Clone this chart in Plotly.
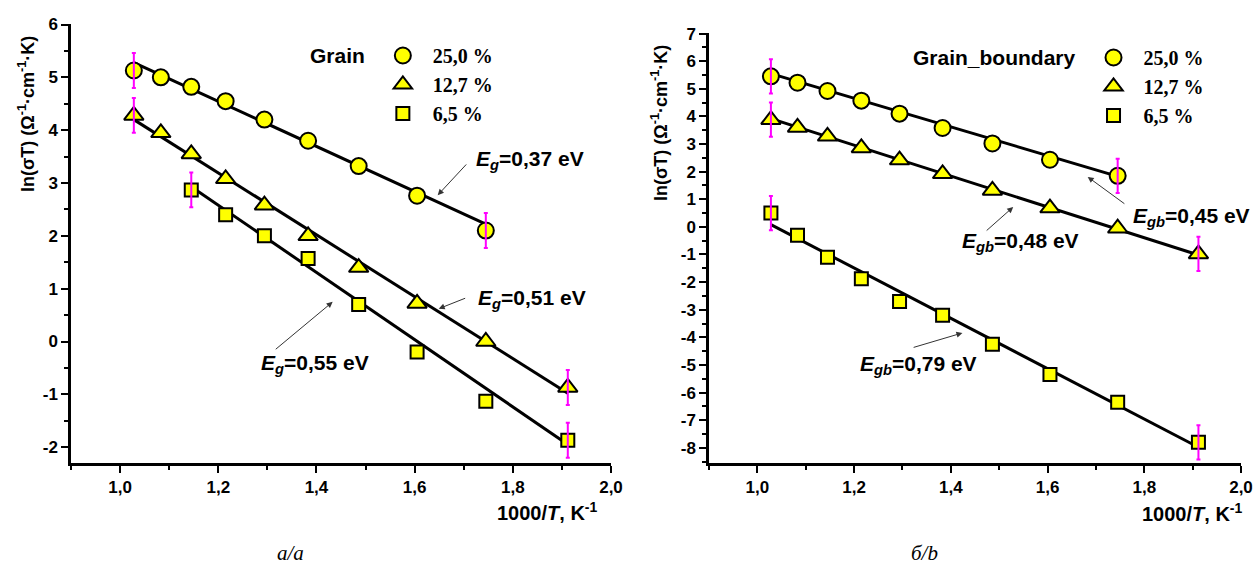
import plotly.graph_objects as go

# ---------------- data ----------------
x_vals = [1.028, 1.083, 1.145, 1.215, 1.294, 1.383, 1.486, 1.605, 1.745, 1.912]

# panel a (Grain)
a_x25 = x_vals[:9]
a_y25 = [5.13, 5.00, 4.82, 4.55, 4.20, 3.80, 3.32, 2.76, 2.10]
a_x127 = x_vals
a_y127 = [4.28, 3.95, 3.55, 3.08, 2.58, 2.00, 1.40, 0.72, 0.00, -0.87]
a_x65 = x_vals[2:]
a_y65 = [2.87, 2.40, 2.00, 1.57, 0.70, -0.20, -1.13, -1.87]

a_fit25_x, a_fit25_y = [1.028, 1.745], [5.28, 2.22]
a_fit127_x, a_fit127_y = [1.028, 1.912], [4.20, -0.98]
a_fit65_x, a_fit65_y = [1.145, 1.912], [2.93, -1.95]

# panel b (Grain boundary)
b_x25 = x_vals[:9]
b_y25 = [5.45, 5.22, 4.92, 4.57, 4.10, 3.58, 3.02, 2.43, 1.85]
b_x127 = x_vals
b_y127 = [3.88, 3.60, 3.28, 2.86, 2.42, 1.92, 1.32, 0.68, -0.05, -0.98]
b_x65 = x_vals
b_y65 = [0.50, -0.30, -1.10, -1.88, -2.70, -3.20, -4.25, -5.35, -6.35, -7.80]

b_fit25_x, b_fit25_y = [1.028, 1.745], [5.55, 1.83]
b_fit127_x, b_fit127_y = [1.028, 1.912], [3.92, -1.02]
b_fit65_x, b_fit65_y = [1.028, 1.912], [0.08, -7.98]

err_a = 0.33
err_b = 0.62

series_labels = ["25,0 %", "12,7 %", "6,5 %"]
x_ticks = [1.0, 1.2, 1.4, 1.6, 1.8, 2.0]
x_ticktext = ["1,0", "1,2", "1,4", "1,6", "1,8", "2,0"]
ya_ticks = [-2, -1, 0, 1, 2, 3, 4, 5, 6]
ya_ticktext = ["-2", "-1", "0", "1", "2", "3", "4", "5", "6"]
yb_ticks = [-8, -7, -6, -5, -4, -3, -2, -1, 0, 1, 2, 3, 4, 5, 6, 7]
yb_ticktext = ["-8", "-7", "-6", "-5", "-4", "-3", "-2", "-1", "0",
               "1", "2", "3", "4", "5", "6", "7"]

# ---------------- styling ----------------
SANS = "Liberation Sans"
SERIF = "Liberation Serif"
YELLOW = "#ffff00"
MAGENTA = "#ff00ff"
symbols = ["circle", "triangle-up", "square"]
sizes = [16, 17, 13]

fig = go.Figure()


def bold(labels):
    return ["<b>" + t + "</b>" for t in labels]


def add_panel(xa, ya, legend, pts, fits, err):
    for fx, fy in fits:
        fig.add_trace(go.Scatter(x=fx, y=fy, mode="lines",
                                 line=dict(color="black", width=3),
                                 showlegend=False, hoverinfo="skip",
                                 xaxis=xa, yaxis=ya))
    for (px, py), lab, sym, sz in zip(pts, series_labels, symbols, sizes):
        fig.add_trace(go.Scatter(x=px, y=py, mode="markers", name=lab,
                                 marker=dict(symbol=sym, size=sz, color=YELLOW,
                                             line=dict(color="black", width=2)),
                                 legend=legend, xaxis=xa, yaxis=ya))
    ex, ey = [], []
    for px, py in pts:
        ex += [px[0], px[-1]]
        ey += [py[0], py[-1]]
    fig.add_trace(go.Scatter(x=ex, y=ey, mode="markers",
                             marker=dict(size=1, color="rgba(0,0,0,0)"),
                             error_y=dict(type="constant", value=err, color=MAGENTA,
                                          thickness=2, width=2),
                             showlegend=False, hoverinfo="skip",
                             xaxis=xa, yaxis=ya))


add_panel("x", "y", "legend",
          [(a_x25, a_y25), (a_x127, a_y127), (a_x65, a_y65)],
          [(a_fit25_x, a_fit25_y), (a_fit127_x, a_fit127_y), (a_fit65_x, a_fit65_y)],
          err_a)
add_panel("x2", "y2", "legend2",
          [(b_x25, b_y25), (b_x127, b_y127), (b_x65, b_y65)],
          [(b_fit25_x, b_fit25_y), (b_fit127_x, b_fit127_y), (b_fit65_x, b_fit65_y)],
          err_b)

W, H = 1257, 574
TICKFONT = dict(family=SANS, size=17, color="black", weight="bold")


def xaxis_style(dom, anchor):
    return dict(domain=dom, range=[0.9, 2.0], anchor=anchor, automargin=False,
                tickvals=x_ticks, ticktext=bold(x_ticktext),
                showline=True, linecolor="black", linewidth=2.5,
                ticks="outside", ticklen=7, tickwidth=2, tickcolor="black",
                tickfont=TICKFONT,
                minor=dict(dtick=0.1, tick0=0.9, ticks="outside", ticklen=4,
                           tickwidth=2, tickcolor="black"),
                showgrid=False, zeroline=False, fixedrange=True)


def yaxis_style(dom, rng, anchor, tv, tt):
    return dict(domain=dom, range=rng, anchor=anchor, automargin=False,
                tickvals=tv, ticktext=bold(tt),
                showline=True, linecolor="black", linewidth=2.5,
                ticks="outside", ticklen=7, tickwidth=2, tickcolor="black",
                tickfont=TICKFONT,
                minor=dict(dtick=0.5, tick0=0, ticks="outside", ticklen=4,
                           tickwidth=2, tickcolor="black"),
                showgrid=False, zeroline=False, fixedrange=True)


ydom = [1 - 463 / H, 1 - 24 / H]
ydom2 = [1 - 463 / H, 1 - 33 / H]

ann = []
ylab = "<b>ln(σT) (Ω<sup>-1</sup>·cm<sup>-1</sup>·K)</b>"
YFONT = dict(family=SANS, size=18, color="black", weight="bold")
ann.append(dict(text=ylab, xref="paper", yref="paper", x=26 / W, y=1 - 114 / H,
                xanchor="center", yanchor="middle",
                textangle=-90, showarrow=False, font=YFONT))
ann.append(dict(text=ylab, xref="paper", yref="paper", x=659 / W, y=1 - 123 / H,
                xanchor="center", yanchor="middle",
                textangle=-90, showarrow=False, font=YFONT))
xlab = "<b>1000/<i>T</i>, K<sup>-1</sup></b>"
XFONT = dict(family=SANS, size=20, color="black", weight="bold")
ann.append(dict(text=xlab, xref="paper", yref="paper", x=600 / W, y=1 - 511 / H,
                xanchor="right", yanchor="middle", showarrow=False, font=XFONT))
ann.append(dict(text=xlab, xref="paper", yref="paper", x=1245 / W, y=1 - 512 / H,
                xanchor="right", yanchor="middle", showarrow=False, font=XFONT))
ann.append(dict(text="<i>а/a</i>", xref="paper", yref="paper", x=290 / W, y=1 - 553 / H,
                xanchor="center", yanchor="middle",
                showarrow=False, font=dict(family=SERIF, size=21, color="black")))
ann.append(dict(text="<i>б/b</i>", xref="paper", yref="paper", x=924 / W, y=1 - 553 / H,
                xanchor="center", yanchor="middle",
                showarrow=False, font=dict(family=SERIF, size=21, color="black")))

efont = dict(family=SANS, size=21, color="black", weight="bold")
labels = [
    ("x", "y", "<b><i>E</i><sub><i>g</i></sub>=0,37 eV</b>", 1.720, 3.43, 1.647, 2.77, 1.708, 3.38),
    ("x", "y", "<b><i>E</i><sub><i>g</i></sub>=0,51 eV</b>", 1.724, 0.80, 1.649, 0.62, 1.706, 0.83),
    ("x", "y", "<b><i>E</i><sub><i>g</i></sub>=0,55 eV</b>", 1.282, -0.42, 1.433, 0.75, 1.314, -0.17),
    ("x2", "y2", "<b><i>E</i><sub><i>gb</i></sub>=0,45 eV</b>", 1.772, 0.36, 1.683, 1.81, 1.762, 0.80),
    ("x2", "y2", "<b><i>E</i><sub><i>gb</i></sub>=0,48 eV</b>", 1.420, -0.54, 1.529, 0.72, 1.471, -0.18),
    ("x2", "y2", "<b><i>E</i><sub><i>gb</i></sub>=0,79 eV</b>", 1.208, -5.00, 1.424, -3.84, 1.320, -4.38),
]
for xr, yr, t, tx, ty, hx, hy, qx, qy in labels:
    ann.append(dict(text=t, xref=xr, yref=yr, x=tx, y=ty, xanchor="left",
                    yanchor="middle", showarrow=False, font=efont))
    ann.append(dict(text="", xref=xr, yref=yr, x=hx, y=hy, axref=xr, ayref=yr,
                    ax=qx, ay=qy, showarrow=True, arrowhead=2, arrowsize=1.2,
                    arrowwidth=1, arrowcolor="#333333"))

legend_common = dict(xanchor="left", yanchor="top", bgcolor="rgba(0,0,0,0)",
                     font=dict(family=SERIF, size=20, color="black", weight="bold"),
                     itemwidth=50, tracegroupgap=0, itemclick=False)
LTFONT = dict(family=SANS, size=21, color="black", weight="bold")

fig.update_layout(
    width=W, height=H, autosize=False,
    margin=dict(l=0, r=0, t=0, b=0, pad=0),
    paper_bgcolor="white", plot_bgcolor="white",
    showlegend=True,
    xaxis=xaxis_style([71 / W, 611 / W], "y"),
    yaxis=yaxis_style(ydom, [-2.30, 6.01], "x", ya_ticks, ya_ticktext),
    xaxis2=xaxis_style([709 / W, 1241 / W], "y2"),
    yaxis2=yaxis_style(ydom2, [-8.55, 7.02], "x2", yb_ticks, yb_ticktext),
    legend=dict(x=308 / W, y=1 - 36 / H,
                title=dict(text="<b>Grain</b>", side="left", font=LTFONT),
                **legend_common),
    legend2=dict(x=911 / W, y=1 - 38 / H,
                 title=dict(text="<b>Grain_boundary</b>", side="left", font=LTFONT),
                 **legend_common),
    annotations=ann,
)

fig.write_html("out.html")
